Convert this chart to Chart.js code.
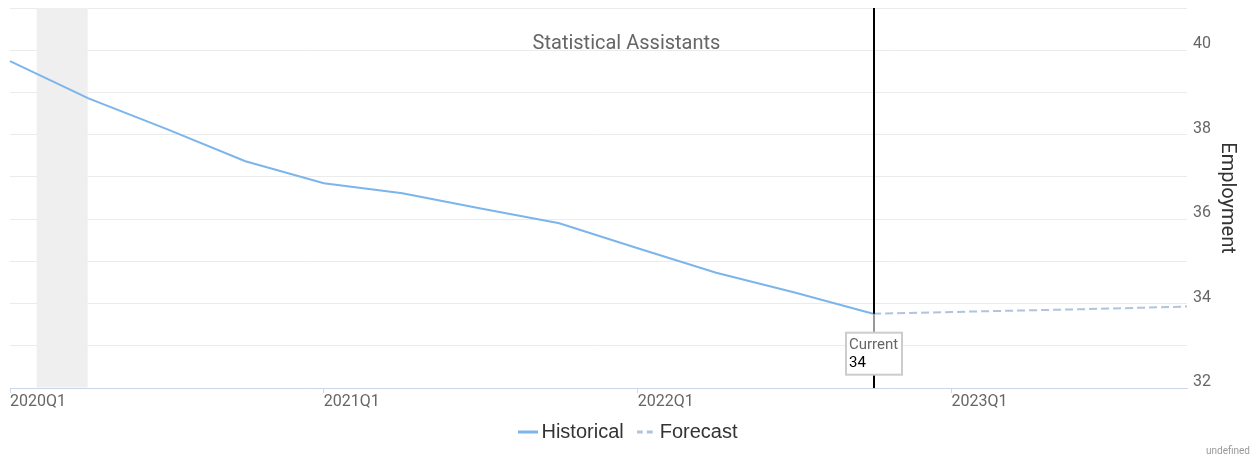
<!DOCTYPE html>
<html>
<head>
<meta charset="utf-8">
<script src="https://cdn.jsdelivr.net/npm/chart.js@4.4.1/dist/chart.umd.min.js"></script>
<style>
  html, body { margin: 0; padding: 0; background: #ffffff; }
  #wrap { width: 1253px; height: 457px; position: relative; }
</style>
</head>
<body>
<div id="wrap"><canvas id="c" width="1253" height="457"></canvas></div>
<script>
// ---- data ----
const chartTitle = 'Statistical Assistants';
const yAxisTitle = 'Employment';
const quarters = ['2020Q1','2020Q2','2020Q3','2020Q4','2021Q1','2021Q2','2021Q3','2021Q4',
                  '2022Q1','2022Q2','2022Q3','2022Q4','2023Q1','2023Q2','2023Q3','2023Q4'];
const historical = [39.74, 38.86, 38.13, 37.37, 36.85, 36.61, 36.25, 35.90,
                    35.31, 34.73, 34.26, 33.76, null, null, null, null];
const forecast   = [null, null, null, null, null, null, null, null,
                    null, null, null, 33.76, 33.80, 33.84, 33.88, 33.93];
const currentIndex = 11;
const currentLabel = 'Current';
const recessionBand = [0.34, 0.99];   // in quarter-index units
const yMin = 32, yMax = 41;
const creditText = 'undefined';

// ---- legend line samples ----
function legendSample(color, dash) {
  const c = document.createElement('canvas');
  c.width = 20; c.height = 4;
  const g = c.getContext('2d');
  g.strokeStyle = color;
  g.lineWidth = 3;
  g.setLineDash(dash);
  g.beginPath();
  g.moveTo(0, 2);
  g.lineTo(20, 2);
  g.stroke();
  return c;
}

// ---- plugin for band, current marker, title, credits ----
const overlay = {
  id: 'overlay',
  afterLayout(chart) {
    // let the x tick labels draw below the (short) axis box without clipping
    chart.scales.x.bottom = chart.height;
  },
  beforeDatasetsDraw(chart) {
    const { ctx, chartArea: a, scales: { x } } = chart;
    const x0 = x.getPixelForValue(recessionBand[0]);
    const x1 = x.getPixelForValue(recessionBand[1]);
    ctx.save();
    ctx.fillStyle = '#efefef';
    ctx.fillRect(x0, a.top, x1 - x0, a.bottom - a.top - 0.5);
    ctx.restore();
  },
  afterDatasetsDraw(chart) {
    const { ctx, chartArea: a, scales: { x, y } } = chart;
    const px = Math.round(x.getPixelForValue(currentIndex)) + 1;
    const val = historical[currentIndex];
    const py = y.getPixelForValue(val);
    ctx.save();
    ctx.strokeStyle = '#000000';
    ctx.lineWidth = 2;
    ctx.beginPath();
    ctx.moveTo(px, a.top);
    ctx.lineTo(px, a.bottom);
    ctx.stroke();
    const boxW = 56, boxH = 42;
    const bx = px - boxW / 2, by = py + 19;
    ctx.strokeStyle = '#999999';
    ctx.lineWidth = 2;
    ctx.beginPath();
    ctx.moveTo(px, py);
    ctx.lineTo(px, by);
    ctx.stroke();
    ctx.fillStyle = '#ffffff';
    ctx.fillRect(bx, by, boxW, boxH);
    ctx.strokeStyle = '#cccccc';
    ctx.lineWidth = 2;
    ctx.strokeRect(bx, by, boxW, boxH);
    ctx.font = '15px Roboto';
    ctx.textAlign = 'left';
    ctx.textBaseline = 'middle';
    ctx.fillStyle = '#666666';
    ctx.fillText(currentLabel, bx + 3, by + 13);
    ctx.fillStyle = '#000000';
    ctx.fillText(String(Math.round(val)), bx + 3, by + 31);
    ctx.restore();
  },
  afterDraw(chart) {
    const { ctx } = chart;
    ctx.save();
    ctx.font = '20px Roboto';
    ctx.fillStyle = '#666666';
    ctx.textAlign = 'center';
    ctx.textBaseline = 'middle';
    ctx.fillText(chartTitle, chart.width / 2, 44);
    ctx.font = '10px Roboto';
    ctx.fillStyle = '#999999';
    ctx.textAlign = 'right';
    ctx.fillText(creditText, chart.width - 3, chart.height - 6);
    ctx.restore();
  }
};

const ctx = document.getElementById('c').getContext('2d');
new Chart(ctx, {
  type: 'line',
  data: {
    labels: quarters,
    datasets: [
      { label: 'Historical', data: historical, borderColor: '#7cb5ec', backgroundColor: '#7cb5ec',
        borderWidth: 2, pointRadius: 0, pointHoverRadius: 0, tension: 0, fill: false },
      { label: 'Forecast', data: forecast, borderColor: '#b0c4de', backgroundColor: '#b0c4de',
        borderDash: [8, 4], borderWidth: 2, pointRadius: 0, pointHoverRadius: 0, tension: 0, fill: false }
    ]
  },
  options: {
    responsive: false,
    animation: false,
    devicePixelRatio: 1,
    layout: { padding: { left: 10, right: 0, top: 8, bottom: 5 } },
    plugins: {
      title: { display: false },
      tooltip: { enabled: false },
      legend: {
        position: 'bottom',
        align: 'center',
        labels: {
          usePointStyle: true,
          pointStyleWidth: 6,
          color: '#333333',
          font: { family: 'Liberation Sans', size: 20 },
          padding: 20,
          generateLabels(chart) {
            const items = Chart.defaults.plugins.legend.labels.generateLabels(chart);
            items.forEach((it, i) => {
              const ds = chart.data.datasets[i];
              it.pointStyle = legendSample(ds.borderColor, i === 1 ? [6, 4] : []);
            });
            return items;
          }
        }
      }
    },
    scales: {
      x: {
        grid: {
          drawOnChartArea: false,
          drawTicks: true,
          tickLength: 5,
          tickColor: c => (c.index % 4 === 0 ? '#ccd6eb' : 'rgba(0,0,0,0)')
        },
        border: { display: true, color: '#ccd6eb', width: 1 },
        ticks: {
          autoSkip: false, maxRotation: 0, minRotation: 0, align: 'start', padding: -1,
          color: '#666666', font: { family: 'Roboto', size: 16 },
          callback: (v, i) => (i % 4 === 0 ? quarters[i] : '')
        },
        afterFit: s => { s.height = 14; s.paddingLeft = 0; s.paddingRight = 0; }
      },
      y: {
        position: 'right',
        min: yMin, max: yMax,
        grid: { color: '#ebebeb', drawTicks: false, lineWidth: 1 },
        border: { display: false },
        ticks: {
          stepSize: 1, padding: 6, labelOffset: -6,
          color: '#666666', font: { family: 'Roboto', size: 16 },
          callback: v => (v % 2 === 0 ? String(v) : '')
        },
        title: {
          display: true, text: yAxisTitle, color: '#333333',
          font: { family: 'Roboto', size: 20 }, padding: { top: 14, bottom: 0 }
        },
        afterFit: s => { s.width = 66; s.paddingTop = 0; s.paddingBottom = 0; }
      }
    }
  },
  plugins: [overlay]
});
</script>
</body>
</html>
